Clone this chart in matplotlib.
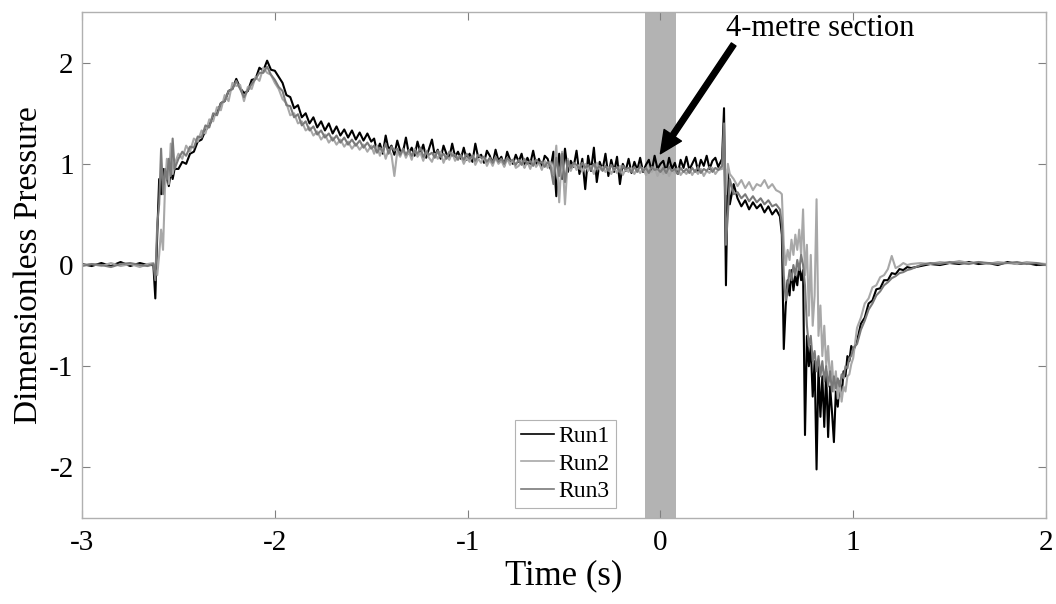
import matplotlib
matplotlib.use('Agg')
import matplotlib.pyplot as plt

plt.rcParams['font.family'] = ['Liberation Serif', 'DejaVu Serif']
plt.rcParams['axes.unicode_minus'] = False

# sample times (s), shared by the three runs
time_s = [
    -3.00, -2.95, -2.90, -2.85, -2.80, -2.75, -2.70, -2.66,
    -2.63, -2.62, -2.61, -2.60, -2.59, -2.58, -2.57, -2.56, -2.55, -2.54, -2.53, -2.52,
    -2.50, -2.48, -2.46, -2.44, -2.42, -2.40, -2.38, -2.36, -2.34, -2.32, -2.30, -2.28, -2.26,
    -2.24, -2.22, -2.20, -2.18, -2.16, -2.14, -2.12, -2.10, -2.08, -2.06, -2.04, -2.02, -2.00,
    -1.98, -1.96, -1.94, -1.92, -1.90, -1.88, -1.86, -1.84, -1.82, -1.80, -1.78, -1.76, -1.74,
    -1.72, -1.70, -1.68, -1.66, -1.64, -1.62, -1.60, -1.58, -1.56, -1.54, -1.52, -1.50,
    -1.485, -1.470, -1.455, -1.440, -1.425, -1.410, -1.395, -1.380, -1.365, -1.350,
    -1.335, -1.320, -1.305, -1.290, -1.275, -1.260, -1.245, -1.230, -1.215, -1.200,
    -1.185, -1.170, -1.155, -1.140, -1.125, -1.110, -1.095, -1.080, -1.065, -1.050,
    -1.035, -1.020, -1.005, -0.990, -0.975, -0.960, -0.945, -0.930, -0.915, -0.900,
    -0.885, -0.870, -0.855, -0.840, -0.825, -0.810, -0.795, -0.780, -0.765, -0.750,
    -0.735, -0.720, -0.705, -0.690, -0.675, -0.660, -0.645, -0.630, -0.615, -0.600,
    -0.585, -0.570, -0.555, -0.540, -0.525, -0.510, -0.495, -0.480, -0.465, -0.450,
    -0.435, -0.420, -0.405, -0.390, -0.375, -0.360, -0.345, -0.330, -0.315, -0.300,
    -0.285, -0.270, -0.255, -0.240, -0.225, -0.210, -0.195, -0.180, -0.165, -0.150,
    -0.135, -0.120, -0.105, -0.090, -0.075, -0.060, -0.045, -0.030, -0.015, 0.000,
    0.015, 0.030, 0.045, 0.060, 0.075, 0.090, 0.105, 0.120, 0.135, 0.150,
    0.165, 0.180, 0.195, 0.210, 0.225, 0.240, 0.255, 0.270, 0.285, 0.300,
    0.32, 0.33, 0.34, 0.35, 0.36, 0.38,
    0.40, 0.42, 0.44, 0.46, 0.48, 0.50, 0.52, 0.54, 0.56, 0.58, 0.60, 0.62,
    0.63, 0.64, 0.65, 0.66, 0.67, 0.68, 0.69, 0.70, 0.71, 0.72, 0.73, 0.74, 0.75,
    0.76, 0.77, 0.78, 0.79, 0.80, 0.81, 0.82, 0.83, 0.84, 0.85, 0.86, 0.87, 0.88,
    0.89, 0.90, 0.91, 0.92, 0.93, 0.94, 0.95, 0.96, 0.97, 0.98, 0.99, 1.00,
    1.02, 1.04, 1.06, 1.08, 1.10, 1.12, 1.14, 1.16, 1.18, 1.20, 1.22, 1.24, 1.26, 1.28, 1.30,
    1.35, 1.40, 1.45, 1.50, 1.55, 1.60, 1.65, 1.70, 1.75, 1.80, 1.85, 1.90, 1.95, 2.00,
]

run1 = [
    0.01, -0.01, 0.02, -0.01, 0.03, -0.01, 0.02, 0.00,
    0.00, -0.33, 0.30, 0.85, 0.70, 0.95, 0.80, 0.90, 0.78, 0.92, 0.85, 0.95,
    0.95, 1.02, 1.00, 1.10, 1.12, 1.22, 1.24, 1.33, 1.38, 1.47, 1.50, 1.60, 1.62,
    1.72, 1.74, 1.84, 1.75, 1.70, 1.72, 1.83, 1.84, 1.95, 1.92, 2.02, 1.93, 1.92,
    1.86, 1.80, 1.68, 1.66, 1.55, 1.58, 1.46, 1.50, 1.40, 1.46, 1.36, 1.42, 1.33,
    1.40, 1.30, 1.37, 1.28, 1.34, 1.26, 1.33, 1.24, 1.31, 1.23, 1.30, 1.22,
    1.25, 1.12, 1.20, 1.10, 1.28, 1.14, 1.18, 1.09, 1.23, 1.13,
    1.12, 1.26, 1.10, 1.16, 1.08, 1.22, 1.11, 1.19, 1.06, 1.15,
    1.24, 1.08, 1.14, 1.05, 1.18, 1.10, 1.06, 1.20, 1.07, 1.12,
    1.05, 1.16, 1.04, 1.10, 1.02, 1.20, 1.06, 1.09, 1.01, 1.13,
    1.08, 1.00, 1.14, 1.03, 1.07, 0.98, 1.12, 1.04, 1.00, 1.09,
    1.02, 1.10, 0.97, 1.06, 1.00, 1.13, 0.99, 1.05, 0.96, 1.08,
    1.05, 0.95, 1.12, 0.68, 1.10, 0.85, 1.15, 0.92, 1.03, 0.97,
    1.13, 0.90, 1.05, 0.75, 1.08, 0.93, 1.16, 0.82, 1.02, 0.94,
    1.10, 0.88, 1.04, 0.92, 1.07, 0.80, 1.00, 0.93, 1.05, 0.91,
    1.02, 0.94, 1.06, 0.92, 0.99, 1.04, 0.93, 1.08, 0.95, 1.00,
    1.03, 0.92, 1.06, 0.95, 1.01, 0.90, 1.04, 0.96, 1.07, 0.94,
    1.00, 1.06, 0.93, 1.04, 0.98, 1.08, 0.95, 1.03, 1.06, 0.97,
    1.05, 1.55, -0.20, 0.95, 0.60, 0.80,
    0.66, 0.58, 0.64, 0.55, 0.62, 0.56, 0.60, 0.52, 0.58, 0.50, 0.55, 0.48,
    0.30, -0.83, -0.40, -0.15, -0.30, -0.05, -0.25, -0.10, -0.20, 0.00, -0.15, -0.05, -1.68,
    -0.70, -1.00, -0.80, -1.30, -0.95, -2.02, -1.00, -1.50, -1.10, -1.60, -1.05, -1.70, -1.20,
    -1.45, -1.75, -1.25, -1.40, -1.15, -1.30, -1.05, -1.10, -0.90, -0.95, -0.80, -0.85,
    -0.75, -0.58, -0.52, -0.38, -0.35, -0.24, -0.23, -0.15, -0.15, -0.08, -0.09, -0.04, -0.05, -0.02, -0.03,
    -0.01, 0.01, 0.00, 0.02, 0.01, 0.03, 0.01, 0.02, 0.00, 0.03, 0.01, 0.02, 0.00, 0.01,
]

run2 = [
    0.00, 0.01, -0.01, 0.02, -0.01, 0.01, -0.02, 0.01,
    0.02, -0.05, -0.10, 0.10, 0.35, 0.15, 0.75, 1.05, 0.80, 1.20, 0.90, 1.00,
    1.10, 1.05, 1.18, 1.12, 1.25, 1.22, 1.33, 1.30, 1.44, 1.42, 1.56, 1.53, 1.68,
    1.62, 1.80, 1.77, 1.78, 1.62, 1.76, 1.74, 1.86, 1.82, 1.95, 1.90, 1.88, 1.80,
    1.74, 1.64, 1.60, 1.48, 1.50, 1.40, 1.42, 1.33, 1.36, 1.28, 1.32, 1.24, 1.29,
    1.21, 1.26, 1.19, 1.24, 1.17, 1.22, 1.15, 1.20, 1.14, 1.19, 1.12, 1.18,
    1.10, 1.18, 1.08, 1.16, 1.05, 1.14, 1.09, 0.88, 1.12, 1.07,
    1.14, 1.06, 1.12, 1.04, 1.15, 1.07, 1.11, 1.03, 1.13, 1.06,
    1.02, 1.10, 1.05, 1.12, 1.01, 1.08, 1.04, 1.11, 1.03, 1.07,
    1.08, 1.00, 1.06, 1.02, 1.09, 0.99, 1.05, 1.01, 1.07, 0.98,
    1.04, 0.98, 1.06, 1.00, 1.03, 0.97, 1.05, 0.99, 1.04, 0.96,
    0.98, 1.03, 0.96, 1.02, 0.95, 1.04, 0.97, 1.01, 0.94, 1.03,
    0.96, 1.02, 0.90, 1.18, 0.62, 1.12, 0.60, 1.05, 0.93, 1.00,
    0.94, 0.99, 0.92, 1.00, 0.93, 0.98, 0.90, 1.01, 0.94, 0.97,
    0.92, 0.97, 0.90, 0.96, 0.91, 0.98, 0.89, 0.95, 0.92, 0.96,
    0.90, 0.95, 0.91, 0.96, 0.89, 0.94, 0.92, 0.97, 0.88, 0.95,
    0.90, 0.95, 0.88, 0.94, 0.91, 0.96, 0.89, 0.93, 0.90, 0.95,
    0.89, 0.94, 0.90, 0.95, 0.88, 0.93, 0.91, 0.96, 0.90, 0.94,
    0.95, 1.10, 0.70, 1.00, 0.90, 0.85,
    0.78, 0.84, 0.76, 0.82, 0.74, 0.80, 0.78, 0.84, 0.76, 0.80, 0.74, 0.72,
    0.70, 0.20, 0.00, 0.15, 0.05, 0.25, 0.10, 0.30, 0.15, 0.35, 0.10, 0.55, -0.10,
    0.20, -0.50, 0.10, -0.60, -0.30, 0.65, -0.70, -0.40, -0.90, -0.60, -1.00, -0.80, -1.15,
    -0.95, -1.25, -1.05, -1.32, -1.15, -1.35, -1.20, -1.25, -1.10, -1.08, -0.98, -0.92,
    -0.62, -0.52, -0.38, -0.33, -0.22, -0.20, -0.12, -0.10, -0.04, 0.09, -0.03, -0.01, 0.02, 0.00, 0.01,
    0.02, 0.01, 0.03, 0.02, 0.04, 0.02, 0.03, 0.01, 0.03, 0.02, 0.01, 0.03, 0.02, 0.01,
]

run3 = [
    -0.01, 0.01, 0.00, -0.02, 0.01, 0.02, 0.00, -0.01,
    0.01, -0.15, 0.40, 0.60, 1.15, 0.70, 0.95, 0.85, 1.05, 0.88, 1.25, 0.95,
    1.05, 1.12, 1.08, 1.17, 1.16, 1.27, 1.26, 1.38, 1.36, 1.50, 1.48, 1.60, 1.62,
    1.72, 1.74, 1.82, 1.74, 1.66, 1.73, 1.79, 1.84, 1.90, 1.90, 1.96, 1.88, 1.83,
    1.76, 1.72, 1.58, 1.57, 1.46, 1.49, 1.38, 1.42, 1.33, 1.37, 1.29, 1.33, 1.26,
    1.30, 1.23, 1.28, 1.21, 1.26, 1.19, 1.24, 1.18, 1.23, 1.16, 1.21, 1.15,
    1.18, 1.11, 1.16, 1.12, 1.20, 1.10, 1.17, 1.13, 1.15, 1.09,
    1.15, 1.09, 1.14, 1.08, 1.13, 1.10, 1.16, 1.07, 1.12, 1.09,
    1.11, 1.06, 1.13, 1.07, 1.10, 1.05, 1.12, 1.08, 1.09, 1.04,
    1.09, 1.04, 1.10, 1.05, 1.08, 1.03, 1.09, 1.06, 1.07, 1.02,
    1.06, 1.01, 1.07, 1.02, 1.05, 1.00, 1.06, 1.03, 1.04, 0.99,
    1.04, 0.99, 1.05, 1.00, 1.03, 0.98, 1.04, 1.01, 1.02, 0.97,
    1.02, 0.97, 0.80, 1.06, 0.88, 1.10, 0.82, 1.03, 0.96, 1.01,
    0.99, 0.95, 1.01, 0.96, 0.99, 0.94, 1.00, 0.95, 0.98, 0.93,
    0.98, 0.93, 0.99, 0.94, 0.97, 0.92, 0.98, 0.95, 0.96, 0.92,
    0.97, 0.92, 0.98, 0.93, 0.96, 0.91, 0.97, 0.94, 0.95, 0.92,
    0.96, 0.91, 0.97, 0.93, 0.95, 0.90, 0.96, 0.92, 0.95, 0.91,
    0.96, 0.92, 0.97, 0.91, 0.95, 0.93, 0.97, 0.92, 0.96, 0.94,
    0.98, 1.40, 0.20, 0.50, 0.85, 0.70,
    0.72, 0.66, 0.70, 0.63, 0.68, 0.62, 0.66, 0.60, 0.64, 0.58, 0.60, 0.55,
    0.40, -0.10, -0.35, -0.20, -0.05, -0.15, 0.00, -0.10, 0.05, -0.05, 0.10, 0.00, -0.20,
    -0.60, -0.80, -0.70, -0.95, -0.85, -1.05, -0.90, -1.10, -0.95, -1.15, -1.00, -1.20, -1.05,
    -1.25, -1.10, -1.22, -1.12, -1.20, -1.08, -1.12, -1.00, -1.02, -0.92, -0.90, -0.82,
    -0.78, -0.64, -0.55, -0.44, -0.38, -0.30, -0.26, -0.20, -0.17, -0.13, -0.11, -0.08, -0.07, -0.05, -0.04,
    0.00, 0.02, 0.01, 0.03, 0.02, 0.01, 0.03, 0.02, 0.01, 0.02, 0.03, 0.01, 0.02, 0.00,
]

run_labels = ['Run1', 'Run2', 'Run3']
run_colors = ['black', '#a8a8a8', '#7a7a7a']
section_start, section_end = -0.08, 0.08

fig = plt.figure(figsize=(10.56, 6.04), dpi=100)
ax = fig.add_axes([0.0777, 0.1424, 0.9128, 0.8376])

ax.axvspan(section_start, section_end, color='#b3b3b3', lw=0, zorder=0)
for vals, lab, col in zip([run1, run2, run3], run_labels, run_colors):
    ax.plot(time_s, vals, color=col, lw=1.5, label=lab)

ax.set_xlim(-3, 2)
ax.set_ylim(-2.5, 2.5)
ax.set_xticks([-3, -2, -1, 0, 1, 2])
ax.set_yticks([-2, -1, 0, 1, 2])
ax.tick_params(direction='in', top=True, right=True, length=6, color='#808080',
               labelsize=21)
ax.tick_params(axis='x', pad=9)
ax.tick_params(axis='y', pad=6)
for sp in ax.spines.values():
    sp.set_color('#b0b0b0')
    sp.set_linewidth(1.0)

ax.set_xlabel('Time (s)', fontsize=25, labelpad=2)
ax.set_ylabel('Dimensionless Pressure', fontsize=24, labelpad=4)

# label + arrow to the 4-metre section
ax.text(0.83, 2.34, '4-metre section', fontsize=22, ha='center', va='center')
ax.annotate('', xy=(0.0, 1.1), xytext=(0.38, 2.18),
            arrowprops=dict(facecolor='black', edgecolor='black', width=4,
                            headwidth=15, headlength=16, shrink=0.0))

leg = ax.legend(loc='lower left', bbox_to_anchor=(0.449, 0.02), fontsize=17,
                frameon=True, fancybox=False, handlelength=1.4, handletextpad=0.2,
                labelspacing=0.25, borderpad=0.25, borderaxespad=0.0)
for line in leg.get_lines():
    line.set_linewidth(1.2)
leg.get_frame().set_edgecolor('#a0a0a0')
leg.get_frame().set_linewidth(0.8)

fig.savefig('out.png', dpi=100)
